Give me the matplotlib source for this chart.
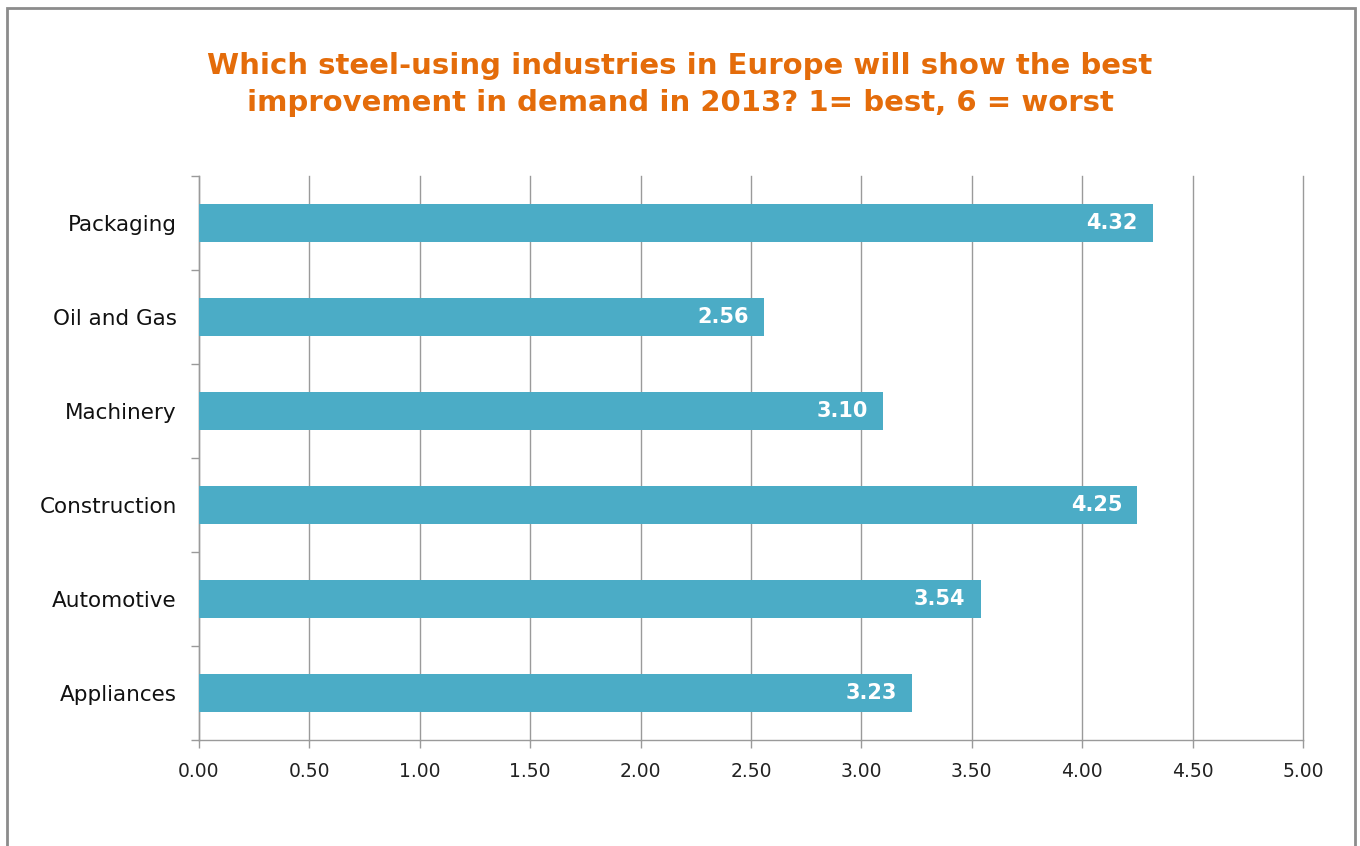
import matplotlib.pyplot as plt
import matplotlib.patches as patches
import numpy as np

categories = ['Appliances', 'Automotive', 'Construction', 'Machinery', 'Oil and Gas', 'Packaging']
scores = [3.23, 3.54, 4.25, 3.10, 2.56, 4.32]
xticks = [0.0, 0.5, 1.0, 1.5, 2.0, 2.5, 3.0, 3.5, 4.0, 4.5, 5.0]
title = 'Which steel-using industries in Europe will show the best\nimprovement in demand in 2013? 1= best, 6 = worst'

bar_color = '#4BACC6'
grid_color = '#9a9a9a'

fig = plt.figure(figsize=(13.6, 8.46), dpi=100)
ax = fig.add_axes([0.1463, 0.1253, 0.8118, 0.6667])

# outer frame of the chart area
fig.patches.append(patches.Rectangle((7 / 1360, -0.05), 1348 / 1360, 1.05 - 8 / 846,
                                     transform=fig.transFigure, fill=False,
                                     edgecolor='#8c8c8c', linewidth=2))

y = np.arange(len(categories))
bars = ax.barh(y, scores, height=0.4, color=bar_color, zorder=3)

for yi, v in zip(y, scores):
    ax.annotate('%.2f' % v, xy=(v, yi), xytext=(-11, 0), textcoords='offset points',
                ha='right', va='center', color='white', fontsize=15, fontweight='bold', zorder=4)

ax.set_xlim(0, 5)
ax.set_ylim(-0.5, len(categories) - 0.5)
ax.set_xticks(xticks)
ax.set_xticklabels(['%.2f' % t for t in xticks], fontsize=13.5, color='#222222')
ax.set_yticks(y)
ax.set_yticklabels(categories, fontsize=15.5, color='#111111')
ax.set_yticks(np.arange(-0.5, len(categories), 1.0), minor=True)

ax.tick_params(axis='y', which='major', length=0, pad=16)
ax.tick_params(axis='y', which='minor', length=6, color=grid_color, width=1)
ax.tick_params(axis='x', length=6, color=grid_color, width=1, pad=10)

ax.xaxis.grid(True, color=grid_color, linewidth=1, zorder=0)
for gl in ax.get_xgridlines():
    gl.set_clip_on(False)
ax.set_axisbelow(True)
for s in ['top', 'right']:
    ax.spines[s].set_visible(False)
for s in ['left', 'bottom']:
    ax.spines[s].set_color(grid_color)
    ax.spines[s].set_linewidth(1)

fig.text(0.5, 0.9, title, ha='center', va='center', fontsize=21, fontweight='bold',
         color='#E46C0A', linespacing=1.4)

fig.savefig('out.png', dpi=100)
